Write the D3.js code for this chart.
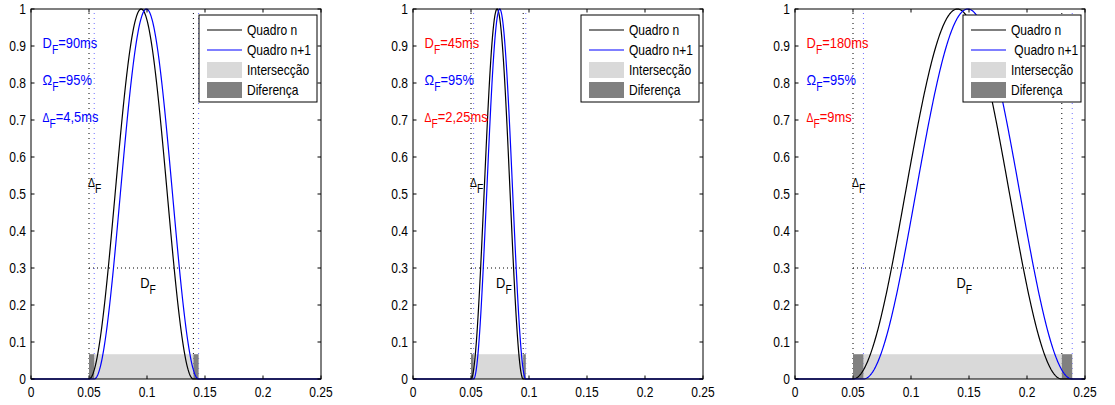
<!DOCTYPE html>
<html>
<head>
<meta charset="utf-8">
<script src="https://cdn.jsdelivr.net/npm/d3@7/dist/d3.min.js"></script>
<style>
  html, body { margin: 0; padding: 0; background: #fff; }
  svg text { font-family: "Liberation Sans", Arial, Helvetica, sans-serif; }
</style>
</head>
<body>
<svg id="chart" width="1115" height="405"></svg>
<script>
// Frame duration D_F (s), overlap Ω_F (%) and hop Δ_F (s) for each panel
const durations = [0.090, 0.045, 0.180];
const overlaps = [95, 95, 95];
const hops = [0.0045, 0.00225, 0.009];
const windowStart = 0.05;           // start of frame n (s)
const markerHeight = 0.067;         // height of the intersection / difference bars

// Annotation text per panel
const durationText = ["=90ms", "=45ms", "=180ms"];
const overlapText = ["=95%", "=95%", "=95%"];
const hopText = ["=4,5ms", "=2,25ms", "=9ms"];
const durationColor = ["#0000ff", "#ff0000", "#ff0000"];
const overlapColor = ["#0000ff", "#0000ff", "#0000ff"];
const hopColor = ["#0000ff", "#ff0000", "#ff0000"];

// Legend entries
const legendLabels = [
  ["Quadro n", "Quadro n+1", "Intersecção", "Diferença"],
  ["Quadro n", "Quadro n+1", "Intersecção", "Diferença"],
  ["Quadro n", " Quadro n+1", "Intersecção", "Diferença"]
];

// Axis ticks
const xTicks = [0, 0.05, 0.1, 0.15, 0.2, 0.25];
const xTickLabels = ["0", "0.05", "0.1", "0.15", "0.2", "0.25"];
const yTicks = [0, 0.1, 0.2, 0.3, 0.4, 0.5, 0.6, 0.7, 0.8, 0.9, 1];
const yTickLabels = ["0", "0.1", "0.2", "0.3", "0.4", "0.5", "0.6", "0.7", "0.8", "0.9", "1"];

const panelLefts = [31, 413, 795];
const plotW = 290, plotTop = 9, plotBottom = 379;
const narrow = 0.86;                // horizontal squeeze of the condensed type
const svg = d3.select("#chart");

// Hann window of length D starting at t0
function hann(t, t0, D) {
  if (t < t0 || t > t0 + D) return 0;
  return 0.5 * (1 - Math.cos(2 * Math.PI * (t - t0) / D));
}
const tGrid = d3.range(0, 0.25 + 1e-9, 0.0005);

// condensed text placed at (px, py)
function label(parent, px, py, str, opts = {}) {
  const t = parent.append("text")
    .attr("transform", `translate(${px},${py}) scale(${narrow},1)`)
    .attr("font-size", opts.size || 14)
    .attr("fill", opts.color || "#000")
    .attr("text-anchor", opts.anchor || "start")
    .style("white-space", "pre");
  if (str !== null) t.text(str);
  return t;
}

durations.forEach((D, i) => {
  const L = panelLefts[i];
  const x = d3.scaleLinear().domain([0, 0.25]).range([L, L + plotW]);
  const y = d3.scaleLinear().domain([0, 1]).range([plotBottom, plotTop]);
  const g = svg.append("g");
  const dH = hops[i];
  const t0 = windowStart, t1 = windowStart + dH;

  // dotted guides: frame limits
  const vGuides = [
    { t: t0, c: "#000" }, { t: t0 + D, c: "#000" },
    { t: t1, c: "#7070ff" }, { t: t1 + D, c: "#7070ff" }
  ];
  g.selectAll(".vg").data(vGuides).join("line")
    .attr("x1", d => x(d.t)).attr("x2", d => x(d.t))
    .attr("y1", y(0)).attr("y2", y(1))
    .attr("stroke", d => d.c).attr("stroke-width", 1)
    .attr("stroke-dasharray", "1,4");
  g.append("line")
    .attr("x1", x(t0)).attr("x2", x(t0 + D))
    .attr("y1", y(0.3)).attr("y2", y(0.3))
    .attr("stroke", "#000").attr("stroke-dasharray", "1,3");

  // intersection and difference bars
  g.append("rect")
    .attr("x", x(t1)).attr("width", x(t0 + D) - x(t1))
    .attr("y", y(markerHeight)).attr("height", y(0) - y(markerHeight))
    .attr("fill", "#d9d9d9");
  [[t0, t1], [t0 + D, t1 + D]].forEach(([a, b]) => {
    g.append("rect")
      .attr("x", x(a)).attr("width", x(b) - x(a))
      .attr("y", y(markerHeight)).attr("height", y(0) - y(markerHeight))
      .attr("fill", "#808080");
  });

  // frame n (black) and frame n+1 (blue)
  const line = d3.line().x(d => x(d[0])).y(d => y(d[1]));
  g.append("path")
    .attr("d", line(tGrid.map(t => [t, hann(t, t0, D)])))
    .attr("fill", "none").attr("stroke", "#000").attr("stroke-width", 1.2);
  g.append("path")
    .attr("d", line(tGrid.map(t => [t, hann(t, t1, D)])))
    .attr("fill", "none").attr("stroke", "#0000ff").attr("stroke-width", 1.2);

  // symbol with subscript F, optionally followed by text
  function subLabel(px, py, sym, symSize, rest, color) {
    const t = label(g, px, py, null, { color: color, size: 15 });
    t.append("tspan").attr("font-size", symSize).text(sym);
    t.append("tspan").attr("dy", 6).attr("font-size", 12).text("F");
    if (rest) t.append("tspan").attr("dy", -6).text(rest);
  }
  subLabel(x(0.01), y(0.895), "D", 15, durationText[i], durationColor[i]);
  subLabel(x(0.01), y(0.795), "Ω", 15, overlapText[i], overlapColor[i]);
  subLabel(x(0.01), y(0.695), "Δ", 12, hopText[i], hopColor[i]);
  subLabel(x(0.05) - 1, y(0.52), "Δ", 12, "", "#000");
  subLabel(x(t0 + D / 2) - 1, y(0.245), "D", 15, "", "#000");

  // axes box with inward ticks
  g.append("rect").attr("x", L).attr("y", plotTop).attr("width", plotW)
    .attr("height", plotBottom - plotTop).attr("fill", "none")
    .attr("stroke", "#000").attr("stroke-width", 1);
  const tk = 3.5;
  xTicks.forEach((v, k) => {
    g.append("line").attr("x1", x(v)).attr("x2", x(v)).attr("y1", plotBottom).attr("y2", plotBottom - tk).attr("stroke", "#000");
    g.append("line").attr("x1", x(v)).attr("x2", x(v)).attr("y1", plotTop).attr("y2", plotTop + tk).attr("stroke", "#000");
    label(g, x(v), plotBottom + 18, xTickLabels[k], { anchor: "middle" });
  });
  yTicks.forEach((v, k) => {
    g.append("line").attr("x1", L).attr("x2", L + tk).attr("y1", y(v)).attr("y2", y(v)).attr("stroke", "#000");
    g.append("line").attr("x1", L + plotW).attr("x2", L + plotW - tk).attr("y1", y(v)).attr("y2", y(v)).attr("stroke", "#000");
    label(g, L - 5, y(v) + 5, yTickLabels[k], { anchor: "end" });
  });

  // legend
  const lx = L + plotW - 122, ly = plotTop + 6, lw = 118, lh = 87;
  const lg = g.append("g");
  lg.append("rect").attr("x", lx).attr("y", ly).attr("width", lw).attr("height", lh)
    .attr("fill", "#fff").attr("stroke", "#000").attr("stroke-width", 1);
  const rowY = [15, 35, 55, 75];
  const styles = [
    { type: "line", c: "#000" }, { type: "line", c: "#0000ff" },
    { type: "patch", c: "#d9d9d9" }, { type: "patch", c: "#808080" }
  ];
  styles.forEach((s, k) => {
    const cy = ly + rowY[k];
    if (s.type === "line") {
      lg.append("line").attr("x1", lx + 8).attr("x2", lx + 43).attr("y1", cy).attr("y2", cy)
        .attr("stroke", s.c).attr("stroke-width", 1.2);
    } else {
      lg.append("rect").attr("x", lx + 8).attr("width", 35).attr("y", cy - 8).attr("height", 16)
        .attr("fill", s.c);
    }
    label(lg, lx + 48, cy + 5, legendLabels[i][k]);
  });
});
</script>
</body>
</html>
